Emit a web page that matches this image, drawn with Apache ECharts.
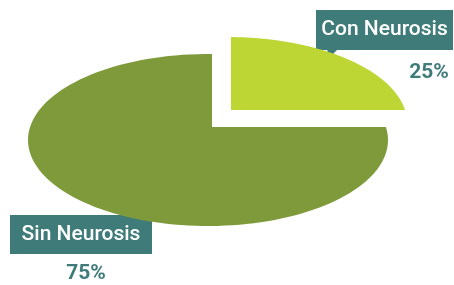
<!DOCTYPE html>
<html>
<head>
<meta charset="utf-8">
<script src="https://cdn.jsdelivr.net/npm/echarts@6/dist/echarts.min.js"></script>
<style>
  html, body { margin: 0; padding: 0; background: #fff; }
  #chart { width: 454px; height: 285px; }
</style>
</head>
<body>
<div id="chart"></div>
<script>
const categories = ["Con Neurosis", "Sin Neurosis"];
const values = [25, 75];
const colors = ["#bdd634", "#7e9a3a"];

// tilted pie: apex sits above the ellipse centre (perspective look)
const ell = { cx: 208, cy: 140, rx: 180, ry: 86 };
const apex = [212, 127];
const explode = [[19, -17], [0, 0]];
const labelFont = 'Roboto, "Liberation Sans Narrow", sans-serif';
const teal = "#3e7b79";

const total = values.reduce((a, b) => a + b, 0);
const startAngles = [];
let acc = 90;
values.forEach(v => { startAngles.push(acc); acc -= v / total * 360; });

// where a ray from the apex hits the ellipse, as an ellipse parameter angle
function hitParam(deg) {
  const th = deg * Math.PI / 180;
  const u = (apex[0] - ell.cx) / ell.rx, v = (apex[1] - ell.cy) / ell.ry;
  const du = Math.cos(th), dv = -Math.sin(th);
  const b = u * du + v * dv, c = u * u + v * v - 1;
  const s = -b + Math.sqrt(b * b - c);
  return Math.atan2(-(v + s * dv), u + s * du);
}

function renderSlice(params, api) {
  const i = params.dataIndex;
  const a0 = startAngles[i];
  const a1 = a0 - api.value(0) / total * 360;
  let t0 = hitParam(a0), t1 = hitParam(a1);
  while (t1 >= t0) t1 -= Math.PI * 2;
  const [ox, oy] = explode[i];
  const pts = [[apex[0] + ox, apex[1] + oy]];
  const n = 120;
  for (let k = 0; k <= n; k++) {
    const t = t0 + (t1 - t0) * k / n;
    pts.push([ell.cx + ell.rx * Math.cos(t) + ox, ell.cy - ell.ry * Math.sin(t) + oy]);
  }
  return { type: "polygon", shape: { points: pts }, style: { fill: colors[i] } };
}

function labelBox(text, x, y, w, h, tri) {
  return {
    type: "group",
    children: [
      { type: "rect", shape: { x: x, y: y, width: w, height: h }, style: { fill: teal } },
      { type: "polygon", shape: { points: tri }, style: { fill: teal } },
      {
        type: "text", x: x + w / 2, y: y + h / 2,
        style: { text: text, fill: "#fff", font: "500 21px " + labelFont, align: "center", verticalAlign: "middle" }
      }
    ]
  };
}

function pctText(i, x, y) {
  return {
    type: "text", x: x, y: y,
    style: {
      text: Math.round(values[i] / total * 100) + "%", fill: teal,
      font: "bold 21px " + labelFont, align: "center", verticalAlign: "middle"
    }
  };
}

const chart = echarts.init(document.getElementById("chart"));
chart.setOption({
  animation: false,
  series: [{
    type: "custom",
    coordinateSystem: "none",
    renderItem: renderSlice,
    data: values.map((v, i) => ({ name: categories[i], value: v }))
  }],
  graphic: [
    labelBox(categories[0], 316, 10, 137, 40, [[327, 49], [338, 49], [329, 58]]),
    pctText(0, 429, 73),
    labelBox(categories[1], 10, 215, 142, 39, [[134, 216], [146, 216], [144, 206]]),
    pctText(1, 86, 274)
  ]
});
</script>
</body>
</html>
